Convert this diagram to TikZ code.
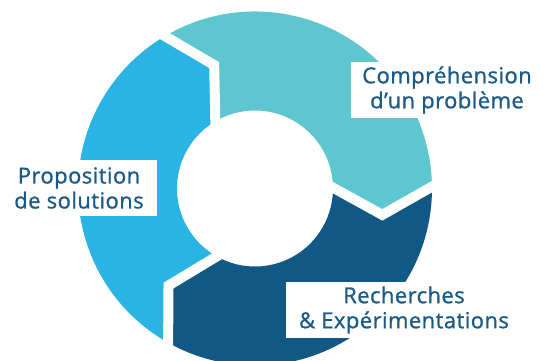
\documentclass[tikz,border=0pt]{standalone}
\usepackage{fontspec}
\setmainfont{Open Sans}[LetterSpace=2, FakeBold=1]
\usetikzlibrary{calc}
\definecolor{ringteal}{HTML}{5EC6CF}
\definecolor{ringdark}{HTML}{125884}
\definecolor{ringlight}{HTML}{29B4E3}
\definecolor{labeltext}{HTML}{1B5A86}
\begin{document}
\begin{tikzpicture}[x=1pt, y=1pt,
			cutline/.style={draw=white, line width=10pt, line join=miter},
			label/.style={fill=white, text=labeltext, align=center, inner sep=0pt, minimum height=56pt, font=\fontsize{22}{25}\selectfont}
			]
			\useasboundingbox (-255,-172.5) rectangle (288,188.5);
			\clip (-255,-172.5) rectangle (288,188.5);
			
			% Chevron points
			\coordinate (t1) at (108.3:130);
			\coordinate (t2) at (-11.7:130);
			\coordinate (t3) at (228.3:130);
			\coordinate (o1) at (120.6:177);
			\coordinate (o2) at (0.6:177);
			\coordinate (o3) at (240.6:177);
			\coordinate (i1) at (120.6:78);
			\coordinate (i2) at (0.6:78);
			\coordinate (i3) at (240.6:78);
			
			% Ring
			\fill[ringteal] (o1) arc[start angle=120.6, end angle=0.6, radius=177] -- (t2) -- (i2) arc[start angle=0.6, end angle=120.6, radius=78] -- (t1) -- cycle;
			\fill[ringdark] (o2) arc[start angle=0.6, end angle=-119.4, radius=177] -- (t3) -- (i3) arc[start angle=-119.4, end angle=0.6, radius=78] -- (t2) -- cycle;
			\fill[ringlight] (o3) arc[start angle=240.6, end angle=120.6, radius=177] -- (t1) -- (i1) arc[start angle=120.6, end angle=240.6, radius=78] -- (t3) -- cycle;
			
			% Gaps
			\draw[cutline] ($(t1)!1.25!(o1)$) -- (t1) -- ($(t1)!1.25!(i1)$);
			\draw[cutline] ($(t2)!1.25!(o2)$) -- (t2) -- ($(t2)!1.25!(i2)$);
			\draw[cutline] ($(t3)!1.25!(o3)$) -- (t3) -- ($(t3)!1.25!(i3)$);
			
			% Labels
			\node[label, minimum width=192pt] (comp) at (192,98.5) {Compréhension\\d’un problème};
			\node[label, minimum width=236pt] (rech) at (149,-121.5) {Recherches\\\& Expérimentations};
			\node[label, minimum width=156pt] (prop) at (-176,0.5) {Proposition\\de solutions};
			
		\end{tikzpicture}
\end{document}
